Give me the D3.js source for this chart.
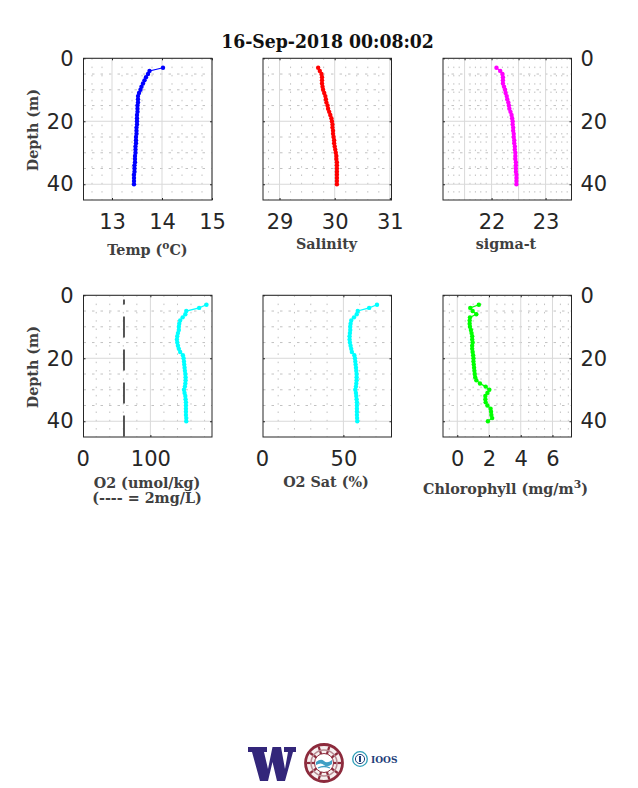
<!DOCTYPE html>
<html>
<head>
<meta charset="utf-8">
<script src="https://cdn.jsdelivr.net/npm/d3@7"></script>
<style>
  html, body { margin: 0; padding: 0; background: white; }
  svg { display: block; }
  .tick text { font-family: "DejaVu Sans", sans-serif; fill: #262626; }
  .lbl { font-family: "DejaVu Serif", serif; font-weight: bold; fill: #404040; }
</style>
</head>
<body>
<svg id="fig" width="638" height="788"></svg>
<script>
// depth bins, one per metre
let depth = [3,4,5,6,7,8,9,10,11,12,13,14,15,16,17,18,19,20,21,22,23,24,25,26,27,28,29,30,31,32,33,34,35,36,37,38,39,40];

let temp = [14.02,13.75,13.72,13.68,13.65,13.62,13.59,13.57,13.54,13.52,13.52,13.52,13.51,13.51,13.51,13.5,13.5,13.5,13.5,13.49,13.49,13.49,13.48,13.48,13.48,13.47,13.47,13.47,13.46,13.46,13.46,13.45,13.45,13.45,13.44,13.44,13.44,13.44];
let salinity = [29.7,29.73,29.76,29.77,29.77,29.77,29.78,29.79,29.81,29.83,29.84,29.85,29.87,29.88,29.9,29.92,29.94,29.95,29.96,29.96,29.97,29.97,29.98,29.99,29.99,30,30.01,30.02,30.03,30.03,30.04,30.04,30.04,30.04,30.04,30.04,30.04,30.04];
let sigmat = [22.09,22.16,22.2,22.21,22.21,22.21,22.23,22.25,22.26,22.28,22.29,22.31,22.32,22.33,22.35,22.37,22.38,22.39,22.39,22.4,22.4,22.41,22.41,22.42,22.42,22.43,22.43,22.44,22.44,22.44,22.45,22.45,22.45,22.45,22.46,22.46,22.46,22.46];
let o2 = [182.8,172,153,151.6,147.7,144,142.6,142,142,140.7,139.7,139.2,139.7,140.7,142,144,148,149,149.6,150,150.5,151,151.6,152,152,151.6,151,149.6,150.5,151.6,152,152.5,152.5,152.5,152.5,152.5,153,153];
let o2sat = [70.6,65.8,58.8,58.2,56.5,54.8,54.4,54.2,54.2,54,53.8,53.8,54,54.4,54.8,55.2,56.7,57.1,57.3,57.5,57.7,57.9,58.1,58.1,58.1,57.9,57.7,57.3,57.7,57.9,58.1,58.3,58.3,58.3,58.3,58.3,58.4,58.5];
let chl = [1.36,0.82,0.97,1.2,0.8,0.78,0.78,0.8,0.86,0.9,0.94,0.94,0.97,0.94,0.94,0.97,1,1.02,1.02,1.04,1.06,1.08,1.1,1.13,1.2,1.43,1.79,2.02,1.9,1.77,1.77,1.79,1.9,2.1,2.13,2.15,2.2,1.93];

let depthTicks = [0,20,40];
let depthMinor = [5,10,15,25,30,35];
let limit2mg = [61,61];   // the 2mg/L reference line
let limitDepth = [1.3,45];

let svg = d3.select("#fig");

// top row y 58-200, bottom row y 295-437
let rows = [[58.3,200],[295.3,437]];
let cols = [[83.5,212],[263,391.5],[443,571.5]];

function panel(o)
{
    let x = d3.scaleLinear(o.xlim, cols[o.col]);
    let y = d3.scaleLinear([0,45], rows[o.row]);
    let g = svg.append("g");
    let top = rows[o.row][0], bot = rows[o.row][1];
    let left = cols[o.col][0], right = cols[o.col][1];
    let grid = o.grid || o.ticks;

    // minor grid, very sparse dots
    g.selectAll(".vminor").data(o.minor).join("line")
        .attr("x1", d => x(d)).attr("x2", d => x(d))
        .attr("y1", top).attr("y2", bot)
        .attr("stroke", "#bbb").attr("stroke-width", 0.9)
        .attr("stroke-dasharray", "1.5 6.8");
    g.selectAll(".hminor").data(depthMinor).join("line")
        .attr("x1", left).attr("x2", right)
        .attr("y1", d => y(d)).attr("y2", d => y(d))
        .attr("stroke", "#bbb").attr("stroke-width", 0.9)
        .attr("stroke-dasharray", "2.5 6");

    // major grid
    g.selectAll(".vmajor").data(grid.filter(d => d > o.xlim[0])).join("line")
        .attr("x1", d => x(d)).attr("x2", d => x(d))
        .attr("y1", top).attr("y2", bot)
        .attr("stroke", "#d9d9d9").attr("stroke-width", 1);
    g.selectAll(".hmajor").data(depthTicks).join("line")
        .attr("x1", left).attr("x2", right)
        .attr("y1", d => y(d)).attr("y2", d => y(d))
        .attr("stroke", "#d9d9d9").attr("stroke-width", 1);

    // 2mg/L line on the O2 panel only
    if(o.refLine)
    {
        g.append("path")
            .attr("d", d3.line().x(d => x(d[0])).y(d => y(d[1]))(d3.zip(limit2mg, limitDepth)))
            .attr("fill", "none").attr("stroke", "#444").attr("stroke-width", 1.8)
            .attr("stroke-dasharray", "21 12").attr("stroke-dashoffset", 16);
    }

    // profile
    let pts = d3.zip(o.values, depth);
    g.append("path")
        .attr("d", d3.line().x(d => x(d[0])).y(d => y(d[1]))(pts))
        .attr("fill", "none").attr("stroke", o.color).attr("stroke-width", 1.2);
    g.selectAll(".pt").data(pts).join("circle")
        .attr("cx", d => x(d[0])).attr("cy", d => y(d[1]))
        .attr("r", 2.2).attr("fill", o.color);

    // x axis, ticks point inward top and bottom
    let xAxis = d3.axisBottom(x).tickValues(o.ticks).tickSize(-2).tickPadding(14.5).tickFormat(d3.format("d"));
    let xg = g.append("g").attr("transform", "translate(0," + bot + ")").call(xAxis);
    xg.select(".domain").remove();
    xg.selectAll("line").attr("stroke", "#262626").style("display", d => d > o.xlim[0] ? null : "none");
    xg.selectAll("text").attr("font-size", 21);

    let xTop = d3.axisTop(x).tickValues(grid.filter(d => d > o.xlim[0])).tickSize(-2).tickFormat("");
    let xt = g.append("g").attr("transform", "translate(0," + top + ")").call(xTop);
    xt.select(".domain").remove();
    xt.selectAll("line").attr("stroke", "#262626");

    // y axis ticks are little inward marks on both sides
    let yLeft = d3.axisLeft(y).tickValues(depthTicks).tickSize(-2).tickPadding(10);
    let yl = g.append("g").attr("transform", "translate(" + left + ",0)").call(yLeft);
    yl.select(".domain").remove();
    yl.selectAll("line").attr("stroke", "#262626");
    yl.selectAll("text").attr("font-size", 21).style("display", o.col == 0 ? null : "none");

    let yRight = d3.axisRight(y).tickValues(depthTicks).tickSize(-2).tickPadding(9);
    let yr = g.append("g").attr("transform", "translate(" + right + ",0)").call(yRight);
    yr.select(".domain").remove();
    yr.selectAll("line").attr("stroke", "#262626");
    yr.selectAll("text").attr("font-size", 21).style("display", o.col == 2 ? null : "none");

    // box
    g.append("rect")
        .attr("x", left).attr("y", top)
        .attr("width", right - left).attr("height", bot - top)
        .attr("fill", "none").attr("stroke", "#262626").attr("stroke-width", 1);

    if(o.col == 0)
    {
        svg.append("text").attr("class", "lbl")
            .attr("transform", "translate(38," + ((top + bot) / 2 + 1) + ") rotate(-90)")
            .attr("text-anchor", "middle").attr("font-size", 14.3)
            .text("Depth (m)");
    }
}

panel({row:0, col:0, xlim:[12.43,15], ticks:[13,14,15], minor:[12.6,12.8,13.2,13.4,13.6,13.8,14.2,14.4,14.6,14.8], values:temp, color:"#0000ff"});
panel({row:0, col:1, xlim:[28.7,31.03], ticks:[29,30,31], minor:[28.8,29.2,29.4,29.6,29.8,30.2,30.4,30.6,30.8], values:salinity, color:"#ff0000"});
panel({row:0, col:2, xlim:[21.1,23.48], ticks:[22,23], grid:[21.5,22,22.5,23], minor:[21.2,21.3,21.4,21.6,21.7,21.8,21.9,22.1,22.2,22.3,22.4,22.6,22.7,22.8,22.9,23.1,23.2,23.3,23.4], values:sigmat, color:"#ff00ff"});
panel({row:1, col:0, xlim:[1.2,191], ticks:[0,100], minor:[20,40,60,80,120,140,160,180], values:o2, color:"#00ffff", refLine:true});
panel({row:1, col:1, xlim:[0.7,79.5], ticks:[0,50], minor:[10,20,30,40,60,70], values:o2sat, color:"#00ffff"});
panel({row:1, col:2, xlim:[-0.9,7.2], ticks:[0,2,4,6], minor:[-0.5,0.5,1,1.5,2.5,3,3.5,4.5,5,5.5,6.5,7], values:chl, color:"#00ff00"});

// title and x labels
function label(x, y, size, txt, sup, after)
{
    let t = svg.append("text").attr("class", "lbl")
        .attr("x", x).attr("y", y).attr("text-anchor", "middle").attr("font-size", size)
        .text(txt);
    if(sup)
    {
        t.append("tspan").attr("dy", -6).attr("font-size", size * 0.75).text(sup);
        t.append("tspan").attr("dy", 6).text(after);
    }
    return t;
}

label(327.5, 48, 19.2, "16-Sep-2018 00:08:02")
    .style("fill", "#111").style("font-family", "'DejaVu Serif Condensed', 'DejaVu Serif', serif");
label(147.5, 255, 14.3, "Temp (", "o", "C)");
label(326.5, 249, 14.3, "Salinity");
label(506, 249, 14.3, "sigma-t");
label(147, 487.5, 14.3, "O2 (umol/kg)");
label(147, 503, 14.3, "(---- = 2mg/L)");
label(326, 487, 14.3, "O2 Sat (%)");
label(505.5, 494, 14.3, "Chlorophyll (mg/m", "3", ")");

// logos at the bottom
let logos = svg.append("g");
logos.append("path")
    .attr("d", "M248 747 H267 V752 H264 L268 769 L272.5 747 H281 L285 769 L288 752 H284 V747 H296 V752 H293 L285 781 H277 L272.5 762 L268 781 H260 L252 752 H248 Z")
    .attr("fill", "#33267a");

let seal = logos.append("g").attr("transform", "translate(324,763)");
seal.append("circle").attr("r", 18.5).attr("fill", "#f6efef").attr("stroke", "#8c2a3c").attr("stroke-width", 2.8);
[0,36,72,108,144].forEach(function (a) {
    seal.append("rect").attr("x", -17).attr("y", -1.1).attr("width", 34).attr("height", 2.2)
        .attr("fill", "#8c2a3c").attr("transform", "rotate(" + a + ")");
});
seal.append("circle").attr("r", 13).attr("fill", "none").attr("stroke", "#b88a92").attr("stroke-width", 1.5);
seal.append("circle").attr("r", 9.5).attr("fill", "#ffffff").attr("stroke", "#8c2a3c").attr("stroke-width", 1);
seal.append("path").attr("d", "M-8,-1 Q-3,-5 0,-2 T8,-3 L8,1 Q3,5 0,2 T-8,2 Z").attr("fill", "#3f9fc4");
seal.append("path").attr("d", "M-6,5 Q0,2 6,5").attr("fill", "none").attr("stroke", "#3f9fc4").attr("stroke-width", 1.3);

let ioos = logos.append("g").attr("transform", "translate(360,759)");
ioos.append("circle").attr("r", 7.3).attr("fill", "none").attr("stroke", "#2f9fb8").attr("stroke-width", 1.3);
ioos.append("circle").attr("r", 4.6).attr("fill", "none").attr("stroke", "#1f3f7a").attr("stroke-width", 1);
ioos.append("rect").attr("x", -1).attr("y", -3).attr("width", 2).attr("height", 6).attr("fill", "#1f3f7a");
logos.append("text").attr("x", 371).attr("y", 762.5)
    .attr("font-family", "DejaVu Serif").attr("font-weight", "bold")
    .attr("font-size", 9).attr("fill", "#1f3f7a").text("IOOS");
</script>
</body>
</html>
